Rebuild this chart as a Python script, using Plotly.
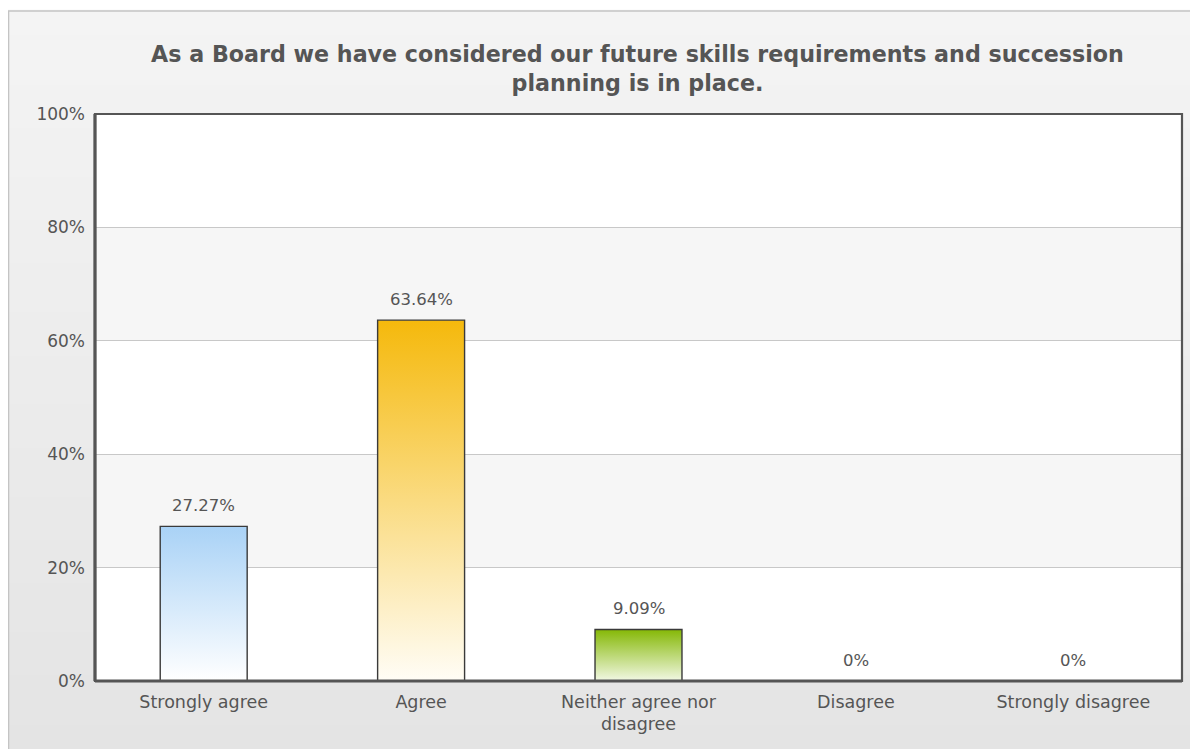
import plotly.graph_objects as go

categories = ["Strongly agree", "Agree", "Neither agree nor<br>disagree", "Disagree", "Strongly disagree"]
values = [27.27, 63.64, 9.09, 0, 0]
labels = ["27.27%", "63.64%", "9.09%", "0%", "0%"]
top_colors = ["#a9d2f6", "#f5b90c", "#85b806", "#9ec3e6", "#f5b90c"]
bottom_colors = ["#ffffff", "#fffdf6", "#f2f8e4", "#ffffff", "#ffffff"]
y_ticks = [0, 20, 40, 60, 80, 100]
y_ticktext = ["0%", "20%", "40%", "60%", "80%", "100%"]
title_text = ("As a Board we have considered our future skills requirements and succession"
              "<br>planning is in place.")

W, H = 1190, 741
L, R, T, B = 87, 16, 106, 68
PW, PH = W - L - R, H - T - B

half = 0.2
fig = go.Figure()

for i, v in enumerate(values):
    if v <= 0:
        continue
    fig.add_trace(go.Scatter(
        x=[i - half, i + half, i + half, i - half, i - half],
        y=[0, 0, v, v, 0],
        mode="lines", fill="toself",
        fillgradient=dict(type="vertical",
                          colorscale=[[0, bottom_colors[i]], [1, top_colors[i]]]),
        line=dict(color="#3a3a3a", width=1.4),
        hoverinfo="skip", showlegend=False,
    ))

annotations = []
for i, v in enumerate(values):
    annotations.append(dict(x=i, y=v, xref="x", yref="y", text=labels[i], showarrow=False,
                            yanchor="bottom", yshift=9,
                            font=dict(family="DejaVu Sans", size=16.5, color="#555555")))

shapes = []
# outer background gradient (decorative)
n = 120
top_c = (244, 244, 244)
bot_c = (228, 228, 228)
fy0 = H          # bottom in fig px (from top)
fy1 = 3          # top of frame
for k in range(n):
    t = k / (n - 1)
    c = tuple(round(bot_c[j] + (top_c[j] - bot_c[j]) * t) for j in range(3))
    ya = fy0 - (fy0 - fy1) * k / n
    yb = fy0 - (fy0 - fy1) * (k + 1) / n
    shapes.append(dict(type="rect", xref="paper", yref="paper", layer="below",
                       x0=-L / PW, x1=1 + R / PW,
                       y0=(H - B - ya) / PH, y1=(H - B - yb) / PH + 0.002,
                       fillcolor="rgb(%d,%d,%d)" % c, line=dict(width=0)))
top_frame = (H - B - fy1) / PH
shapes.append(dict(type="line", xref="paper", yref="paper", layer="below",
                   x0=-L / PW, x1=1 + R / PW, y0=top_frame, y1=top_frame,
                   line=dict(color="#c4c4c4", width=1.5)))
shapes.append(dict(type="line", xref="paper", yref="paper", layer="below",
                   x0=-L / PW + 0.0005, x1=-L / PW + 0.0005, y0=-B / PH, y1=top_frame,
                   line=dict(color="#c4c4c4", width=1.5)))
# plot background white + alternating bands
shapes.append(dict(type="rect", xref="paper", yref="paper", layer="below",
                   x0=0, x1=1, y0=0, y1=1, fillcolor="white", line=dict(width=0)))
for b0 in (20, 60):
    shapes.append(dict(type="rect", xref="paper", yref="y", layer="below",
                       x0=0, x1=1, y0=b0, y1=b0 + 20, fillcolor="#f6f6f6", line=dict(width=0)))
# plot border
shapes.append(dict(type="rect", xref="paper", yref="paper", layer="above",
                   x0=0, x1=1, y0=0, y1=1, line=dict(color="#555555", width=2.2)))
shapes.append(dict(type="line", xref="paper", yref="paper", layer="above",
                   x0=0, x1=0, y0=0, y1=1, line=dict(color="#555555", width=3.2)))
shapes.append(dict(type="line", xref="paper", yref="paper", layer="above",
                   x0=0, x1=1, y0=0, y1=0, line=dict(color="#555555", width=3.2)))

fig.update_layout(
    width=W, height=H,
    margin=dict(l=L, r=R, t=T, b=B),
    paper_bgcolor="white", plot_bgcolor="rgba(0,0,0,0)",
    title=dict(text=title_text, x=0.529, xanchor="center", y=1 - 54 / H, yanchor="top",
               font=dict(family="DejaVu Sans", size=22.2, color="#555555", weight="bold")),
    shapes=shapes,
    annotations=annotations,
    xaxis=dict(range=[-0.5, 4.5], tickvals=list(range(len(categories))), ticktext=categories,
               showgrid=False, zeroline=False, showline=False, ticks="",
               ticklabelstandoff=8,
               tickfont=dict(family="DejaVu Sans", size=17.5, color="#555555")),
    yaxis=dict(range=[0, 100], tickvals=y_ticks, ticktext=y_ticktext,
               showgrid=True, gridcolor="#c8c8c8", gridwidth=1, zeroline=False,
               showline=False, ticks="", ticklabelstandoff=9,
               tickfont=dict(family="DejaVu Sans", size=17, color="#555555")),
    font=dict(family="DejaVu Sans"),
)

fig.write_html("out.html")
